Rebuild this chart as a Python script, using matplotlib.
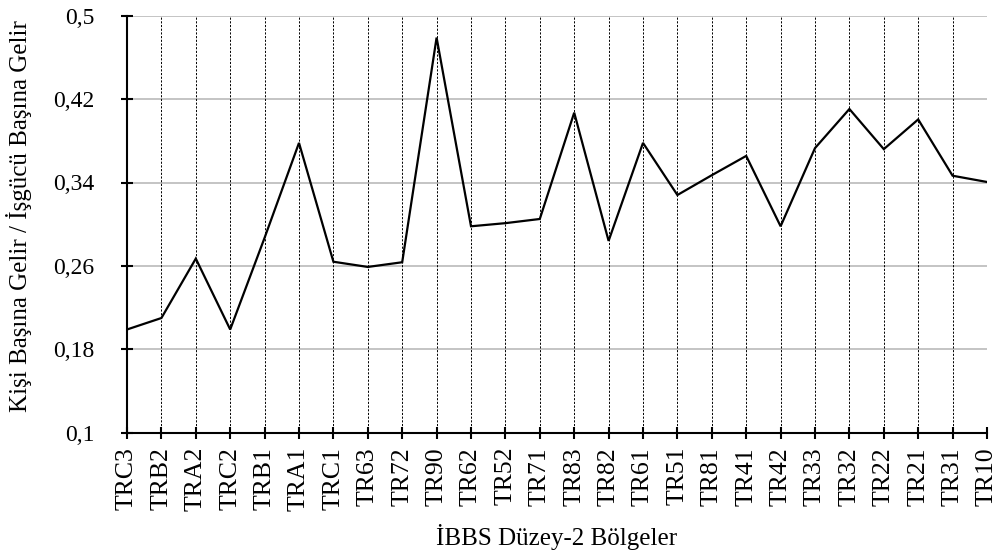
import matplotlib
matplotlib.use("Agg")
import matplotlib.pyplot as plt

regions = ["TRC3", "TRB2", "TRA2", "TRC2", "TRB1", "TRA1", "TRC1", "TR63", "TR72", "TR90",
           "TR62", "TR52", "TR71", "TR83", "TR82", "TR61", "TR51", "TR81", "TR41", "TR42",
           "TR33", "TR32", "TR22", "TR21", "TR31", "TR10"]
ratio = [0.199, 0.210, 0.267, 0.199, 0.287, 0.378, 0.264, 0.259, 0.2635, 0.479,
         0.298, 0.301, 0.305, 0.407, 0.284, 0.378, 0.328, 0.347, 0.3655, 0.298,
         0.373, 0.4105, 0.372, 0.4005, 0.3465, 0.3405]
yticks = [0.1, 0.18, 0.26, 0.34, 0.42, 0.5]
ytick_labels = ["0,1", "0,18", "0,26", "0,34", "0,42", "0,5"]

plt.rcParams['font.family'] = ['Liberation Serif', 'DejaVu Serif']

fig = plt.figure(figsize=(9.93, 5.51), dpi=100)
ax = fig.add_axes([127/993, 1 - 432.7/551, (987 - 127)/993, (432.7 - 15.7)/551])

x = list(range(len(regions)))
ax.plot(x, ratio, color='black', lw=1.6, zorder=3, solid_joinstyle='miter')

ax.set_xlim(0, len(regions) - 1)
ax.set_ylim(0.1, 0.5)
ax.set_yticks(yticks)
ax.set_yticklabels(ytick_labels, fontsize=17)
ax.set_xticks(x)
ax.set_xticklabels(regions, rotation=90, fontsize=18.5)

# grids
for yv in yticks:
    ax.axhline(yv, color='#bfbfbf', lw=1.3, zorder=1)
for xv in x[1:]:
    ax.axvline(xv, color='black', lw=0.7, dashes=(2.2, 1.6), zorder=1)

for s in ['top', 'right']:
    ax.spines[s].set_visible(False)
for s in ['left', 'bottom']:
    ax.spines[s].set_linewidth(1.5)
    ax.spines[s].set_zorder(4)

ax.tick_params(axis='both', direction='inout', length=8.5, width=1.5, color='black')
ax.tick_params(axis='y', pad=19)
ax.tick_params(axis='x', pad=6)

fig.text(557/993, 1 - 537/551, "İBBS Düzey-2 Bölgeler", ha='center', va='center', fontsize=18)
fig.text(19/993, 1 - 216/551, "Kişi Başına Gelir / İşgücü Başına Gelir", ha='center', va='center',
         rotation=90, fontsize=18)

fig.savefig("out.png", dpi=100)
